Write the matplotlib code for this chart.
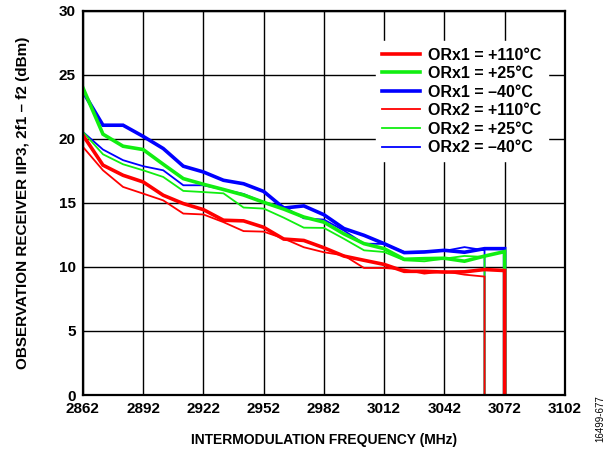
import matplotlib.pyplot as plt
import numpy as np

plt.rcParams['font.family'] = ['Liberation Sans', 'DejaVu Sans']

# frequencies (MHz)
freq_orx1 = np.arange(2862, 3073, 10)
freq_orx2 = np.arange(2862, 3063, 10)

# ORx1 (thick lines)
orx1_110 = [20.3, 17.95, 17.16, 16.64, 15.6, 14.95, 14.48, 13.65, 13.6, 13.1, 12.18,
            12.07, 11.5, 10.85, 10.52, 10.2, 9.66, 9.66, 9.6, 9.62, 9.8, 9.72]
orx1_25 = [24.0, 20.37, 19.43, 19.17, 18.02, 16.9, 16.46, 16.05, 15.62, 15.05, 14.52,
           13.9, 13.5, 12.58, 11.82, 11.43, 10.6, 10.65, 10.68, 10.45, 10.85, 11.2]
orx1_m40 = [23.7, 21.07, 21.07, 20.2, 19.25, 17.87, 17.42, 16.77, 16.5, 15.9, 14.6,
            14.77, 14.08, 13.0, 12.47, 11.82, 11.12, 11.17, 11.3, 11.15, 11.43, 11.43]

# ORx2 (thin lines)
orx2_110 = [19.38, 17.55, 16.25, 15.73, 15.2, 14.17, 14.1, 13.5, 12.8, 12.76, 12.22,
            11.54, 11.15, 10.9, 9.92, 9.92, 9.8, 9.48, 9.66, 9.4, 9.25]
orx2_25 = [20.55, 18.8, 18.02, 17.55, 17.03, 15.94, 15.85, 15.75, 14.64, 14.56, 13.85,
           13.07, 13.05, 12.2, 11.3, 11.17, 10.52, 10.44, 10.65, 10.86, 10.78]
orx2_m40 = [20.55, 19.17, 18.34, 17.87, 17.55, 16.38, 16.38, 16.05, 15.7, 15.05, 14.7,
            13.8, 13.7, 12.84, 11.82, 11.8, 11.17, 11.2, 11.25, 11.55, 11.3]

labels = ["ORx1 = +110°C", "ORx1 = +25°C", "ORx1 = –40°C",
          "ORx2 = +110°C", "ORx2 = +25°C", "ORx2 = –40°C"]

red = "#ff0000"
green = "#11ee11"
blue = "#0000ff"

fig = plt.figure(figsize=(6.14, 4.53), dpi=100)
ax = fig.add_axes([0.135, 0.128, 0.785, 0.848])

# each sweep ends with a drop to 0 at its last frequency
def with_drop(f, v):
    return np.append(f, f[-1]), np.append(v, 0)

series = [
    (freq_orx2, orx2_m40, blue, 1.3, 5),
    (freq_orx2, orx2_25, green, 1.3, 4),
    (freq_orx2, orx2_110, red, 1.3, 3),
    (freq_orx1, orx1_m40, blue, 2.6, 2),
    (freq_orx1, orx1_25, green, 2.6, 1),
    (freq_orx1, orx1_110, red, 2.6, 0),
]
handles = [None] * 6
for f, v, c, lw, idx in series:
    x, y = with_drop(f, v)
    ln, = ax.plot(x, y, color=c, lw=lw, solid_joinstyle="miter")
    handles[idx] = ln

ax.set_xlim(2862, 3102)
ax.set_ylim(0, 30)
ax.set_xticks(np.arange(2862, 3103, 30))
ax.set_yticks(np.arange(0, 31, 5))
ax.grid(True, color="black", lw=1.0)
ax.set_axisbelow(True)
for s in ax.spines.values():
    s.set_linewidth(1.6)
ax.tick_params(length=0, pad=5, labelsize=11)
for t in ax.get_xticklabels() + ax.get_yticklabels():
    t.set_fontweight("bold")

ax.set_xlabel("INTERMODULATION FREQUENCY (MHz)", fontsize=10, fontweight="bold", labelpad=12)
ax.set_ylabel("OBSERVATION RECEIVER IIP3, 2f1 – f2 (dBm)", fontsize=11, fontweight="bold", labelpad=21)

leg = ax.legend(handles, labels, loc="upper right", bbox_to_anchor=(0.982, 0.942),
                frameon=True, fancybox=False, edgecolor="white", framealpha=1,
                prop={"weight": "bold", "size": 11.5}, handlelength=2.4,
                labelspacing=0.22, borderpad=0.4, handletextpad=0.5)

fig.text(0.978, 0.075, "16499-677", rotation=90, fontsize=7, ha="center", va="center")

fig.savefig("out.png", dpi=100)
